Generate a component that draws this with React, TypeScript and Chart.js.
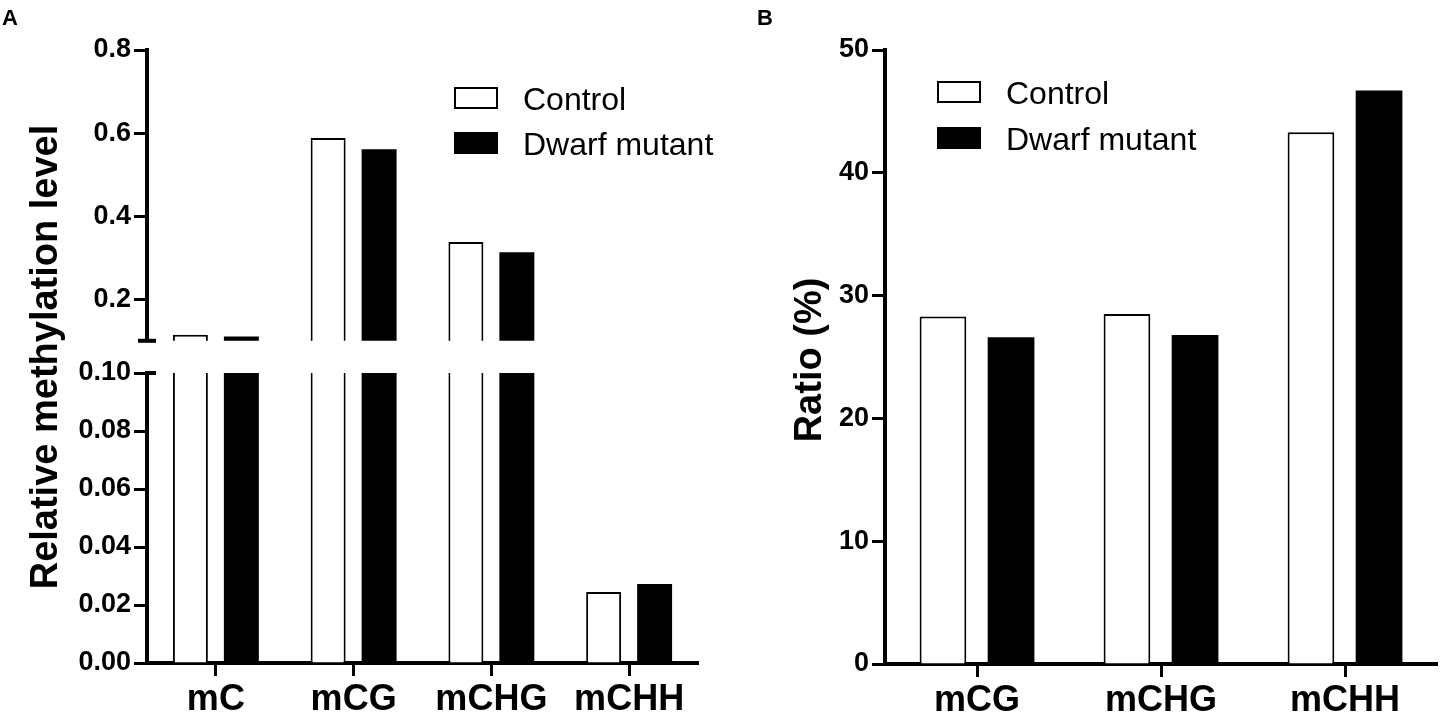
import React, { useEffect, useRef } from "react";
import { Chart, registerables } from "chart.js";

Chart.register(...registerables);

// ---- data ----
const seriesNames = ["Control", "Dwarf mutant"];

// panel A: relative methylation level, broken y axis at 0.1
const categoriesA = ["mC", "mCG", "mCHG", "mCHH"];
const controlA = [0.1145, 0.588, 0.338, 0.0245];
const dwarfA = [0.1105, 0.561, 0.313, 0.0272];
const upperTicksA = [0.2, 0.4, 0.6, 0.8];
const lowerTicksA = [0, 0.02, 0.04, 0.06, 0.08, 0.1];
const BREAK_AT = 0.1;
const UPPER_MAX = 0.8;

// panel B: ratio (%)
const categoriesB = ["mCG", "mCHG", "mCHH"];
const controlB = [28.3, 28.5, 43.3];
const dwarfB = [26.6, 26.8, 46.7];
const ticksB = [0, 10, 20, 30, 40, 50];

const FONT = '"Liberation Sans", Arial, sans-serif';

const controlStyle = { backgroundColor: "#ffffff", borderColor: "#000000", borderWidth: 2 };
const dwarfStyle = { backgroundColor: "#000000", borderColor: "#000000", borderWidth: 0 };
const barFit = { categoryPercentage: 0.74, barPercentage: 0.686 };

function yAxis(min: number, max: number, ticks: number[], digits: number, width: number) {
  return {
    min,
    max,
    afterFit: (s: any) => {
      s.width = width;
    },
    afterBuildTicks: (s: any) => {
      s.ticks = ticks.map((v) => ({ value: v }));
    },
    border: { display: true, color: "#000", width: 4 },
    grid: { drawOnChartArea: false, drawTicks: true, tickLength: 13, tickWidth: 3, tickColor: "#000" },
    ticks: {
      color: "#000",
      padding: 3,
      font: { family: FONT, size: 27, weight: "bold" },
      callback: (v: any) => Number(v).toFixed(digits),
    },
  };
}

function xAxis(height: number) {
  return {
    type: "category",
    afterFit: (s: any) => {
      s.height = height;
    },
    border: { display: true, color: "#000", width: 4 },
    grid: { offset: false, drawOnChartArea: false, tickLength: 13, tickWidth: 3, tickColor: "#000" },
    ticks: {
      color: "#000",
      padding: 2,
      autoSkip: false,
      maxRotation: 0,
      font: { family: FONT, size: 36, weight: "bold" },
    },
  };
}

// legend drawn inside the plot area, like the original
function boxLegend(dx: number, dy: number, gap: number) {
  return {
    id: "boxLegend",
    afterDraw(chart: any) {
      const { ctx, chartArea } = chart;
      chart.data.datasets.forEach((ds: any, i: number) => {
        const x = chartArea.left + dx;
        const y = chartArea.top + dy + i * gap;
        ctx.save();
        ctx.fillStyle = ds.backgroundColor;
        ctx.fillRect(x, y, 44, 22);
        ctx.lineWidth = 2;
        ctx.strokeStyle = "#000";
        ctx.strokeRect(x + 1, y + 1, 42, 20);
        ctx.fillStyle = "#000";
        ctx.font = `32px ${FONT}`;
        ctx.textBaseline = "alphabetic";
        ctx.fillText(ds.label, x + 69, y + 22.5);
        ctx.restore();
      });
    },
  };
}

type TextItem = { text: string; x: number; y: number; size: number; rotate?: boolean };

function freeText(items: TextItem[]) {
  return {
    id: "freeText",
    afterDraw(chart: any) {
      const { ctx } = chart;
      items.forEach((t) => {
        ctx.save();
        ctx.fillStyle = "#000";
        ctx.font = `bold ${t.size}px ${FONT}`;
        ctx.textBaseline = "alphabetic";
        ctx.translate(t.x, t.y);
        if (t.rotate) {
          ctx.rotate(-Math.PI / 2);
          ctx.textAlign = "center";
        } else {
          ctx.textAlign = "left";
        }
        ctx.fillText(t.text, 0, 0);
        ctx.restore();
      });
    },
  };
}

// short caps marking the axis break
function breakCap(left: number, right: number) {
  return {
    id: "breakCap",
    afterDraw(chart: any) {
      const { ctx } = chart;
      const y = chart.scales.y.getPixelForValue(BREAK_AT);
      const x = chart.chartArea.left;
      ctx.save();
      ctx.strokeStyle = "#000";
      ctx.lineWidth = 4;
      ctx.beginPath();
      ctx.moveTo(x - left, y);
      ctx.lineTo(x + right, y);
      ctx.stroke();
      ctx.restore();
    },
  };
}

const baseOptions = {
  responsive: false,
  animation: false,
  events: [],
  plugins: { legend: { display: false }, tooltip: { enabled: false } },
};

function makeUpperA(): any {
  return {
    type: "bar",
    data: {
      labels: categoriesA,
      datasets: [
        { label: seriesNames[0], data: controlA.map((v) => (v > BREAK_AT ? v : null)), ...controlStyle, ...barFit },
        { label: seriesNames[1], data: dwarfA.map((v) => (v > BREAK_AT ? v : null)), ...dwarfStyle, ...barFit },
      ],
    },
    options: {
      ...baseOptions,
      layout: { padding: { top: 50, bottom: 19, left: 0, right: 22 } },
      scales: {
        x: { type: "category", display: false, grid: { offset: false } },
        y: yAxis(BREAK_AT, UPPER_MAX, upperTicksA, 1, 147),
      },
    },
    plugins: [boxLegend(307, 37, 45), breakCap(9, 9)],
  };
}

function makeLowerA(): any {
  return {
    type: "bar",
    data: {
      labels: categoriesA,
      datasets: [
        {
          label: seriesNames[0],
          data: controlA.map((v) => Math.min(v, BREAK_AT)),
          ...controlStyle,
          borderWidth: (c: any) =>
            c.raw !== undefined && c.raw >= BREAK_AT ? { left: 2, right: 2, top: 0, bottom: 0 } : 2,
          ...barFit,
        },
        { label: seriesNames[1], data: dwarfA.map((v) => Math.min(v, BREAK_AT)), ...dwarfStyle, ...barFit },
      ],
    },
    options: {
      ...baseOptions,
      layout: { padding: { top: 373, bottom: 0, left: 0, right: 22 } },
      scales: {
        x: xAxis(54),
        y: yAxis(0, BREAK_AT, lowerTicksA, 2, 147),
      },
    },
    plugins: [
      breakCap(0, 9),
      freeText([
        { text: "A", x: 2, y: 25, size: 22 },
        { text: "Relative methylation level", x: 57, y: 357, size: 38, rotate: true },
      ]),
    ],
  };
}

function makeB(): any {
  return {
    type: "bar",
    data: {
      labels: categoriesB,
      datasets: [
        { label: seriesNames[0], data: controlB, ...controlStyle, ...barFit },
        { label: seriesNames[1], data: dwarfB, ...dwarfStyle, ...barFit },
      ],
    },
    options: {
      ...baseOptions,
      layout: { padding: { top: 50, bottom: 0, left: 0, right: 5 } },
      scales: {
        x: xAxis(53),
        y: yAxis(0, 50, ticksB, 0, 165),
      },
    },
    plugins: [
      boxLegend(52, 31, 46),
      freeText([
        { text: "B", x: 37, y: 25, size: 22 },
        { text: "Ratio (%)", x: 101, y: 360, size: 38, rotate: true },
      ]),
    ],
  };
}

function ChartCanvas({ make, left, top, width, height }: { make: () => any; left: number; top: number; width: number; height: number }) {
  const ref = useRef<HTMLCanvasElement | null>(null);

  useEffect(() => {
    if (!ref.current) return;
    const chart = new Chart(ref.current, make());
    return () => chart.destroy();
  }, [make]);

  return (
    <canvas
      ref={ref}
      width={width}
      height={height}
      style={{ position: "absolute", left, top, width, height }}
    />
  );
}

export default function App() {
  return (
    <div style={{ position: "absolute", left: 0, top: 0, width: 1442, height: 717, background: "#fff", overflow: "hidden" }}>
      <ChartCanvas make={makeLowerA} left={0} top={0} width={720} height={717} />
      <ChartCanvas make={makeUpperA} left={0} top={0} width={720} height={360} />
      <ChartCanvas make={makeB} left={720} top={0} width={722} height={717} />
    </div>
  );
}
